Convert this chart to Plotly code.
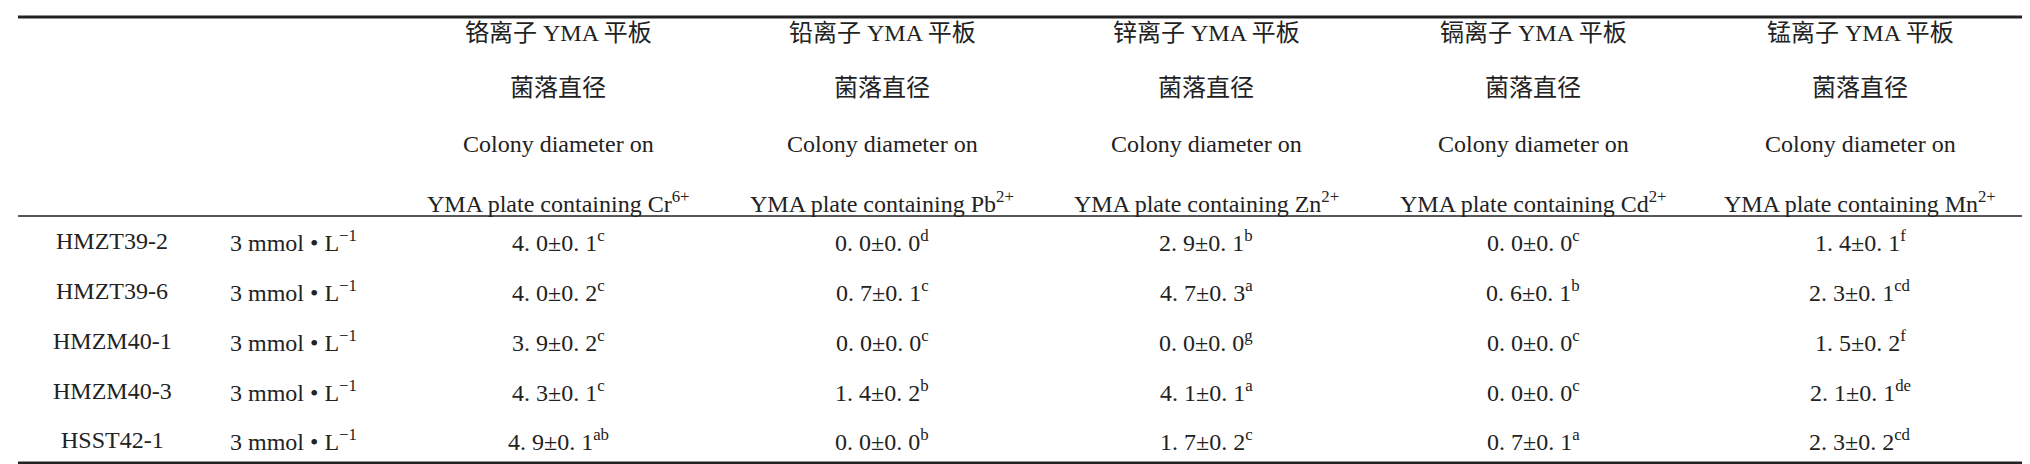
import plotly.graph_objects as go

strains = ["HMZT39-2", "HMZT39-6", "HMZM40-1", "HMZM40-3", "HSST42-1"]
conc = "3 mmol • L<sup>−1</sup>"
ions_cn = ["铬", "铅", "锌", "镉", "锰"]
ions_en = ["Cr<sup>6+</sup>", "Pb<sup>2+</sup>", "Zn<sup>2+</sup>", "Cd<sup>2+</sup>", "Mn<sup>2+</sup>"]

# mean, sd, letter per ion column
cr = [("4.0", "0.1", "c"), ("4.0", "0.2", "c"), ("3.9", "0.2", "c"), ("4.3", "0.1", "c"), ("4.9", "0.1", "ab")]
pb = [("0.0", "0.0", "d"), ("0.7", "0.1", "c"), ("0.0", "0.0", "c"), ("1.4", "0.2", "b"), ("0.0", "0.0", "b")]
zn = [("2.9", "0.1", "b"), ("4.7", "0.3", "a"), ("0.0", "0.0", "g"), ("4.1", "0.1", "a"), ("1.7", "0.2", "c")]
cd = [("0.0", "0.0", "c"), ("0.6", "0.1", "b"), ("0.0", "0.0", "c"), ("0.0", "0.0", "c"), ("0.7", "0.1", "a")]
mn = [("1.4", "0.1", "f"), ("2.3", "0.1", "cd"), ("1.5", "0.2", "f"), ("2.1", "0.1", "de"), ("2.3", "0.2", "cd")]
cols = [cr, pb, zn, cd, mn]

W, H = 2030, 464
col_x = [104, 285, 550, 874, 1198, 1525, 1852]
head_y = [25, 80, 136, 194]
row_y = [233, 283, 333, 383, 432]
FONT = dict(family="Liberation Serif, Noto Sans CJK SC", size=24, color="#222")

fig = go.Figure()
ann = []
def txt(x, y, s):
    ann.append(dict(x=x, y=y, text=s, showarrow=False, xref="x", yref="y",
                    xanchor="center", yanchor="middle", font=FONT))

for j in range(5):
    x = col_x[j + 2]
    txt(x, head_y[0], ions_cn[j] + "离子 YMA 平板")
    txt(x, head_y[1], "菌落直径")
    txt(x, head_y[2], "Colony diameter on")
    txt(x, head_y[3], "YMA plate containing " + ions_en[j])

for i, s in enumerate(strains):
    txt(col_x[0], row_y[i], s)
    txt(col_x[1], row_y[i], conc)
    for j, c in enumerate(cols):
        m, sd, l = c[i]
        v = f"{m}±{sd}".replace(".", ". ")
        txt(col_x[j + 2], row_y[i], f"{v}<sup>{l}</sup>")

fig.update_layout(
    width=W, height=H, margin=dict(l=0, r=0, t=0, b=0),
    plot_bgcolor="white", paper_bgcolor="white", annotations=ann,
    xaxis=dict(range=[0, W], visible=False),
    yaxis=dict(range=[H, 0], visible=False),
    shapes=[
        dict(type="line", x0=10, x1=2018, y0=9, y1=9, line=dict(color="#222", width=3)),
        dict(type="line", x0=10, x1=2018, y0=208, y1=208, line=dict(color="#222", width=1.5)),
        dict(type="line", x0=10, x1=2018, y0=455, y1=455, line=dict(color="#222", width=3)),
    ],
)
fig.write_html("out.html")
